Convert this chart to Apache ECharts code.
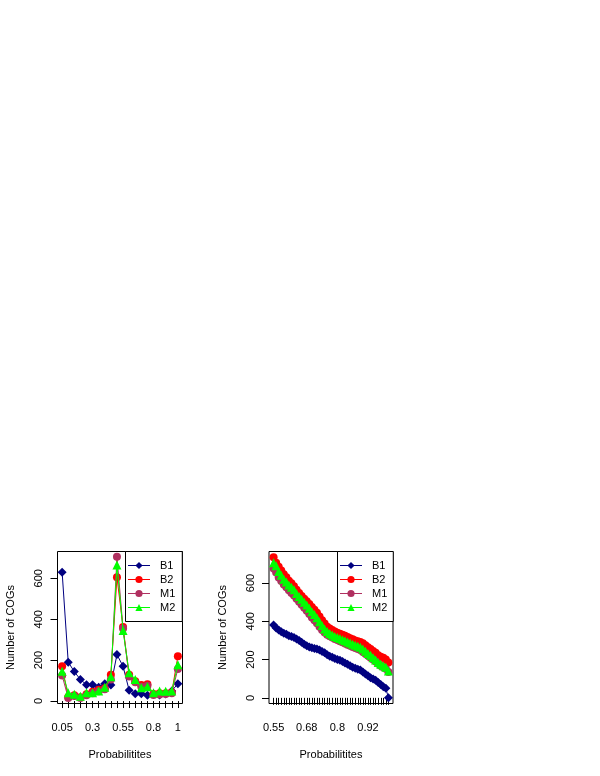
<!DOCTYPE html>
<html>
<head>
<meta charset="utf-8">
<script src="https://cdn.jsdelivr.net/npm/echarts@6/dist/echarts.min.js"></script>
<style>html,body{margin:0;padding:0;background:#fff}#c{width:600px;height:776px}</style>
</head>
<body>
<div id="c"></div>
<script>
// ---- data ----
var seriesNames = ['B1', 'B2', 'M1', 'M2'];
var leftProbs = [0.05,0.10,0.15,0.20,0.25,0.30,0.35,0.40,0.45,0.50,0.55,0.60,0.65,0.70,0.75,0.80,0.85,0.90,0.95,1.00];
var leftB1 = [630,190,144,105,80,80,68,85,78,227,170,53,36,36,28,33,30,35,49,85];
var leftB2 = [170,20,28,18,33,45,55,62,128,605,362,128,97,78,82,35,38,38,42,219];
var leftM1 = [125,15,25,15,28,38,48,58,105,705,355,120,92,70,75,30,32,34,38,157];
var leftM2 = [146,41,33,24,41,41,49,68,119,665,345,138,105,65,70,41,49,48,49,178];
var leftXLabels = [0.05,0.3,0.55,0.8,1];
var leftYLabels = [0,200,400,600];

var rightProbs = [0.55,0.56,0.57,0.58,0.59,0.60,0.61,0.62,0.63,0.64,0.65,0.66,0.67,0.68,0.69,0.70,0.71,0.72,0.73,0.74,0.75,0.76,0.77,0.78,0.79,0.80,0.81,0.82,0.83,0.84,0.85,0.86,0.87,0.88,0.89,0.90,0.91,0.92,0.93,0.94,0.95,0.96,0.97,0.98,0.99,1.00];
var rightB1 = [380,365,355,345,338,332,325,320,315,308,300,290,280,272,266,262,258,255,250,242,235,225,218,212,205,200,196,190,182,175,168,160,155,150,145,135,125,115,105,98,92,80,70,58,50,0];
var rightB2 = [735,705,685,665,645,630,612,598,583,565,548,532,518,505,490,475,460,445,425,405,388,372,362,354,347,340,335,330,325,318,312,306,300,296,292,285,275,265,255,245,235,222,215,210,200,185];
var rightM1 = [675,655,628,610,592,578,562,548,535,518,502,486,470,455,438,420,405,390,372,355,342,330,322,315,308,302,296,290,284,278,272,266,260,255,250,240,230,220,210,200,190,178,168,160,152,135];
var rightM2 = [705,690,660,640,620,605,590,578,565,545,530,515,500,485,468,450,435,418,398,378,360,346,336,328,320,315,310,304,298,292,286,280,275,270,265,255,243,232,222,210,198,185,175,168,160,140];
var rightXLabels = [0.55,0.68,0.8,0.92];
var rightYLabels = [0,200,400,600];

var xTitle = 'Probabilitites';
var yTitle = 'Number of COGs';

// ---- styles ----
var colors = ['#000080', '#FF0000', '#B03060', '#00FF00'];
var symbols = ['diamond', 'circle', 'circle', 'triangle'];
var symSizes = [9, 8, 8, 9];
var FONT = '"Liberation Sans", Arial, Helvetica, sans-serif';

function pairs(xs, ys) { return xs.map(function (x, i) { return [x, ys[i]]; }); }
function fmt(v) { return String(parseFloat(Number(v).toFixed(2))); }

function xAxis(gi, min, max, ticks, labels) {
  return {
    type: 'value', gridIndex: gi, min: min, max: max,
    name: xTitle, nameLocation: 'middle', nameGap: 46,
    nameTextStyle: { fontFamily: FONT, fontSize: 11, color: '#000' },
    axisLine: { show: false },
    axisTick: { show: true, length: 7, customValues: ticks, lineStyle: { color: '#000', width: 1 } },
    axisLabel: { customValues: labels, formatter: fmt, margin: 19, fontFamily: FONT, fontSize: 11, color: '#000' },
    splitLine: { show: false }
  };
}
function yAxis(gi, min, max, labels) {
  return {
    type: 'value', gridIndex: gi, min: min, max: max,
    name: yTitle, nameLocation: 'middle', nameGap: 41, nameRotate: 90,
    nameTextStyle: { fontFamily: FONT, fontSize: 11, color: '#000' },
    axisLine: { show: false },
    axisTick: { show: true, length: 7, customValues: labels, lineStyle: { color: '#000', width: 1 } },
    axisLabel: { customValues: labels, rotate: 90, margin: 13, fontFamily: FONT, fontSize: 11, color: '#000' },
    splitLine: { show: false }
  };
}
function legend(left, top, padRight) {
  return {
    left: left, top: top, orient: 'vertical',
    data: seriesNames,
    backgroundColor: '#fff', borderColor: '#000', borderWidth: 1, borderRadius: 0,
    padding: [7, padRight, 7, 2], itemGap: 0, itemWidth: 22, itemHeight: 9,
    lineStyle: { width: 1 },
    textStyle: { fontFamily: FONT, fontSize: 11, color: '#000', lineHeight: 14, height: 14, padding: [0, 0, 0, 5] },
    selectedMode: false
  };
}

var series = [];
var leftData = [leftB1, leftB2, leftM1, leftM2];
var rightData = [rightB1, rightB2, rightM1, rightM2];
[0, 1].forEach(function (gi) {
  var probs = gi === 0 ? leftProbs : rightProbs;
  var data = gi === 0 ? leftData : rightData;
  seriesNames.forEach(function (name, k) {
    series.push({
      type: 'line', name: name, xAxisIndex: gi, yAxisIndex: gi,
      data: pairs(probs, data[k]),
      symbol: symbols[k], symbolSize: symSizes[k], showAllSymbol: true,
      itemStyle: { color: colors[k] },
      lineStyle: { color: colors[k], width: 1 },
      animation: false, z: 2 + k
    });
  });
});

var chart = echarts.init(document.getElementById('c'), null, { renderer: 'canvas', width: 600, height: 776 });
chart.setOption({
  backgroundColor: '#fff',
  animation: false,
  grid: [
    { left: 57.5, top: 551.5, width: 125, height: 152, show: true, borderColor: '#000', borderWidth: 1, backgroundColor: 'transparent' },
    { left: 269, top: 551.5, width: 124, height: 152, show: true, borderColor: '#000', borderWidth: 1, backgroundColor: 'transparent' }
  ],
  xAxis: [
    xAxis(0, 0.012, 1.038, leftProbs, leftXLabels),
    xAxis(1, 0.532, 1.018, rightProbs, rightXLabels)
  ],
  yAxis: [
    yAxis(0, -12, 731, leftYLabels),
    yAxis(1, -29.4, 764.4, rightYLabels)
  ],
  legend: [
    legend(125.5, 551.5, 7),
    legend(337.5, 551.5, 6)
  ],
  series: series
});
</script>
</body>
</html>
